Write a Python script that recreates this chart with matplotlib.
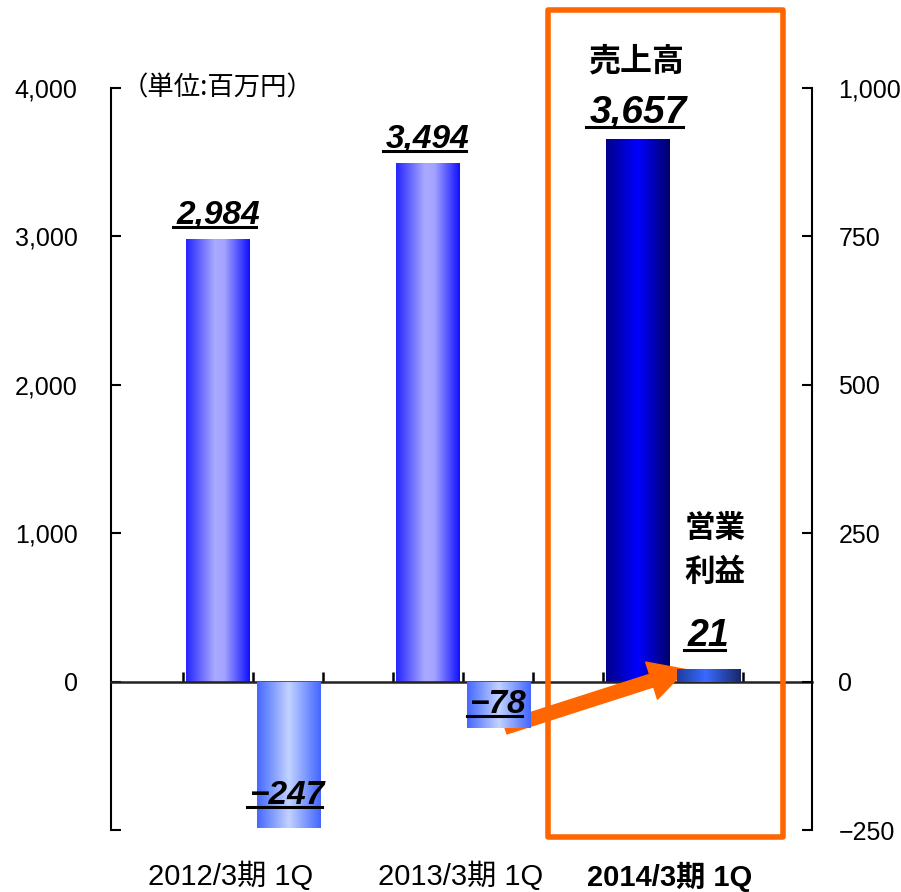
import matplotlib
matplotlib.use('Agg')
import matplotlib.pyplot as plt
import numpy as np
from matplotlib.colors import LinearSegmentedColormap
from matplotlib.lines import Line2D
from matplotlib.patches import Rectangle
from matplotlib.ticker import FuncFormatter

# data
periods = ['2012/3期 1Q', '2013/3期 1Q', '2014/3期 1Q']
sales = [2984, 3494, 3657]          # 売上高 (left axis)
op_profit = [-247, -78, 21]         # 営業利益 (right axis)
left_ticks = [-1000, 0, 1000, 2000, 3000, 4000]
right_ticks = [-250, 0, 250, 500, 750, 1000]
unit_label = '（単位:百万円）'

JP = ['Noto Sans CJK JP', 'DejaVu Sans']
NUM = ['Liberation Sans', 'DejaVu Sans']
CAT = ['Liberation Sans', 'Noto Sans CJK JP']

W, H = 901, 892
fig = plt.figure(figsize=(W / 100, H / 100), dpi=100)
ax = fig.add_axes([111 / W, (H - 830) / H, 701 / W, 742 / H])
ax2 = ax.twinx()

def cmap(cols):
    return LinearSegmentedColormap.from_list('g', cols)

sales_cm = [cmap([(0, '#2424ff'), (0.45, '#aaaaff'), (0.6, '#a4a4ff'), (1, '#1010ff')]),
            cmap([(0, '#2424ff'), (0.45, '#aaaaff'), (0.6, '#a4a4ff'), (1, '#1010ff')]),
            cmap([(0, '#00008a'), (0.5, '#0000ff'), (1, '#00006a')])]
op_cm = [cmap([(0, '#4468ff'), (0.5, '#c2d2ff'), (1, '#4266ff')]),
         cmap([(0, '#4468ff'), (0.5, '#c2d2ff'), (1, '#4266ff')]),
         cmap([(0, '#1e3c9c'), (0.45, '#3a6aff'), (1, '#182866')])]

grad = np.linspace(0, 1, 256).reshape(1, -1)
x = np.arange(len(periods))
bw = 0.3
off = 0.167

def gradient_bars(a, xs, vals, cms):
    bars = a.bar(xs, vals, bw, color='none', edgecolor='none')
    for b, cm in zip(bars, cms):
        x0, y0 = b.get_x(), b.get_y()
        im = a.imshow(grad, extent=[x0, x0 + b.get_width(), y0, y0 + b.get_height()],
                      aspect='auto', cmap=cm, interpolation='bicubic', zorder=2)
        im.set_clip_path(b)
    return bars

sbars = gradient_bars(ax, x - off, sales, sales_cm)
obars = gradient_bars(ax2, x + off, op_profit, op_cm)

ax.set_xlim(-0.676, 2.662)
ax.set_ylim(-1000, 4000)
ax2.set_ylim(-250, 1000)

# axes styling
for s in ['top', 'right']:
    ax.spines[s].set_visible(False)
for s in ['top', 'left', 'bottom']:
    ax2.spines[s].set_visible(False)
ax.spines['left'].set_linewidth(1.5)
ax2.spines['right'].set_linewidth(1.5)
ax.spines['bottom'].set_position(('data', 0))
ax.spines['bottom'].set_linewidth(1.8)
ax.spines['bottom'].set_color('#222222')

ax.set_yticks(left_ticks)
ax.yaxis.set_major_formatter(FuncFormatter(lambda v, p: '' if v < 0 else f'{int(v):,}'))
ax2.set_yticks(right_ticks)
ax2.yaxis.set_major_formatter(FuncFormatter(lambda v, p: f'{int(v):,}'.replace('-', '−')))
ax.tick_params(axis='y', direction='in', length=7, width=1.5, pad=24, labelsize=18)
ax2.tick_params(axis='y', direction='in', length=7, width=1.5, pad=19, labelsize=18)
for lab in ax.get_yticklabels() + ax2.get_yticklabels():
    lab.set_family(NUM)

ax.set_xticks(np.concatenate([x - 0.333, x, x + 0.333]))
ax.tick_params(axis='x', direction='in', length=7, width=1.8, labelbottom=False)

# category labels
cat_x = [-0.105, 0.99, 1.986]
for i, (cx, p) in enumerate(zip(cat_x, periods)):
    ax.text(cx, -0.063, p, transform=ax.get_xaxis_transform(), ha='center', va='center',
            fontsize=21, family=CAT, fontweight='bold' if i == 2 else 'normal')

fig.text(122 / W, 1 - 88 / H, unit_label, ha='left', va='center', fontsize=19, family=JP)

# value labels
labels = []
sales_size = [24, 24, 28]
for b, v, fs in zip(sbars, sales, sales_size):
    t = ax.annotate(f'{v:,}', (b.get_x() + b.get_width() / 2, v), xytext=(0, 8),
                    textcoords='offset pixels', ha='center', va='bottom', fontsize=fs,
                    family=NUM, fontweight='bold', style='italic')
    labels.append(t)
op_offsets = [33, 23, 33]
op_size = [24, 24, 27]
for b, v, dy, fs in zip(obars, op_profit, op_offsets, op_size):
    t = ax2.annotate(f'{v:,}'.replace('-', '−'), (b.get_x() + b.get_width() / 2, v),
                     xytext=(0, dy), textcoords='offset pixels', ha='center', va='center',
                     fontsize=fs, family=NUM, fontweight='bold', style='italic', zorder=5)
    labels.append(t)

fig.text(636 / W, 1 - 62 / H, '売上高', ha='center', va='center', fontsize=23,
         family=JP, fontweight='bold', style='italic')
fig.text(715 / W, 1 - 528 / H, '営業', ha='center', va='center', fontsize=22,
         family=JP, fontweight='bold', style='italic')
fig.text(715 / W, 1 - 572 / H, '利益', ha='center', va='center', fontsize=22,
         family=JP, fontweight='bold', style='italic')

# highlight box and arrow
fig.add_artist(Rectangle((548 / W, 1 - 837 / H), (783 - 548) / W, (837 - 10) / H,
                         transform=fig.transFigure, fill=False, edgecolor='#ff6600',
                         lw=4, joinstyle='round', zorder=10))
ax.annotate('', xy=(2.062, 81), xytext=(1.2, -310),
            arrowprops=dict(arrowstyle='simple,head_length=2.6,head_width=2.8,tail_width=0.95',
                            color='#ff6600', mutation_scale=10, shrinkA=0, shrinkB=0),
            zorder=12, annotation_clip=False)
ax.set_zorder(1)
ax2.set_zorder(2)

# underline value labels
fig.canvas.draw()
r = fig.canvas.get_renderer()
for t in labels:
    bb = t.get_window_extent(r)
    y = (bb.y0 + 4) / H
    fig.add_artist(Line2D([(bb.x0 - 3) / W, (bb.x1 - 4) / W], [y, y],
                          transform=fig.transFigure, color='black', lw=2.2, zorder=20))

fig.savefig('out.png', dpi=100)
